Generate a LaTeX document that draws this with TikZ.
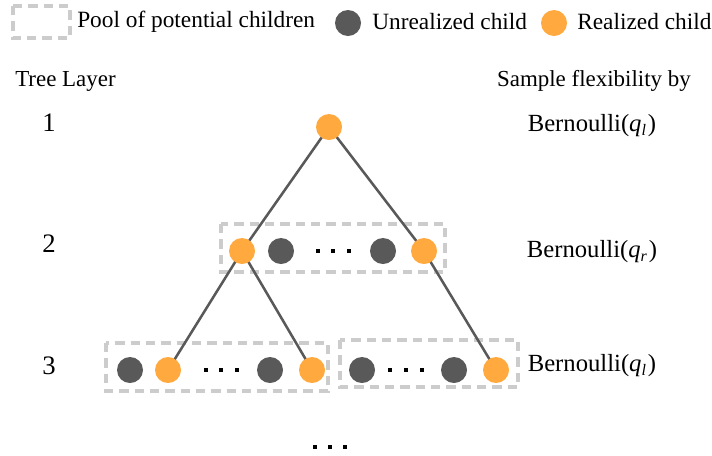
\documentclass[tikz,border=0pt]{standalone}
\usepackage{fontspec}
\setmainfont{Liberation Serif}
\definecolor{realc}{HTML}{FFA93F}
\definecolor{unrc}{HTML}{595959}
\definecolor{poolc}{HTML}{CCCCCC}
\definecolor{edgec}{HTML}{595959}
\newcommand{\qsub}[1]{\textit{q}\raisebox{-0.3ex}{\fontsize{12}{14}\selectfont\textit{#1}}\kern0.08em}
\begin{document}
\begin{tikzpicture}[x=0.75pt,y=-0.75pt,
  real/.style={circle,fill=realc,minimum size=19.5pt,inner sep=0pt},
  unreal/.style={circle,fill=unrc,minimum size=19.5pt,inner sep=0pt},
  pool/.style={draw=poolc,line width=2.3pt,dash pattern=on 7pt off 4.5pt},
  edge/.style={draw=edgec,line width=1.9pt},
  txt/.style={font=\fontsize{17.2}{20}\selectfont,inner sep=0pt},
  ltxt/.style={font=\fontsize{17.5}{21}\selectfont,inner sep=0pt},
  numtxt/.style={font=\fontsize{20}{24}\selectfont,inner sep=0pt},
  btxt/.style={font=\fontsize{18.5}{22}\selectfont,inner sep=0pt},
  dotsn/.style={rectangle,fill=black,minimum size=3.2pt,inner sep=0pt}]
\useasboundingbox (0,0) rectangle (712,455);
% legend
\draw[pool] (13,6) rectangle (70,38);
\node[ltxt,anchor=west] (lpool) at (77,22) {Pool of potential children};
\node[unreal] (lun) at (348,23) {};
\node[ltxt,anchor=west] (lunt) at (372,22) {Unrealized child};
\node[real] (lre) at (554,23) {};
\node[ltxt,anchor=west] (lret) at (577,22) {Realized child};
% headers
\node[txt,anchor=west] (tl) at (15,81) {Tree Layer};
\node[txt,anchor=east] (sf) at (691,81) {Sample flexibility by};
\node[numtxt] (n1) at (49,123) {1};
\node[numtxt] (n2) at (49,244) {2};
\node[numtxt] (n3) at (49,366) {3};
\node[btxt] (b1) at (592,126) {Bernoulli(\qsub{l})};
\node[btxt] (b2) at (592,252) {Bernoulli(\qsub{r})};
\node[btxt] (b3) at (592,366) {Bernoulli(\qsub{l})};
% pools
\draw[pool] (221,224) rectangle (445,272);
\draw[pool] (106,343) rectangle (328,391);
\draw[pool] (340,340) rectangle (518,387);
% nodes
\coordinate (r) at (329,127);
\coordinate (a1) at (242,251);
\coordinate (a5) at (424,251);
\coordinate (c2) at (168,370);
\coordinate (c4) at (312,370);
\coordinate (d4) at (496,370);
\draw[edge] (r) -- (a1);
\draw[edge] (r) -- (a5);
\draw[edge] (a1) -- (c2);
\draw[edge] (a1) -- (c4);
\draw[edge] (a5) -- (d4);
\node[real] (root) at (r) {};
\node[real] (A1) at (a1) {};
\node[unreal] (A2) at (281,251) {};
\node[dotsn] (ad1) at (318,251) {};
\node[dotsn] (ad2) at (333,251) {};
\node[dotsn] (ad3) at (349,251) {};
\node[unreal] (A4) at (383,251) {};
\node[real] (A5) at (a5) {};
\node[unreal] (C1) at (130,370) {};
\node[real] (C2) at (c2) {};
\node[dotsn] (cd1) at (206,370) {};
\node[dotsn] (cd2) at (221,370) {};
\node[dotsn] (cd3) at (237,370) {};
\node[unreal] (C3) at (270,370) {};
\node[real] (C4) at (c4) {};
\node[unreal] (D1) at (362,370) {};
\node[dotsn] (dd1) at (390,370) {};
\node[dotsn] (dd2) at (406,370) {};
\node[dotsn] (dd3) at (422,370) {};
\node[unreal] (D2) at (454,370) {};
\node[real] (D3) at (d4) {};
\node[dotsn] (ed1) at (315,447) {};
\node[dotsn] (ed2) at (330,447) {};
\node[dotsn] (ed3) at (345,447) {};
\end{tikzpicture}
\end{document}
